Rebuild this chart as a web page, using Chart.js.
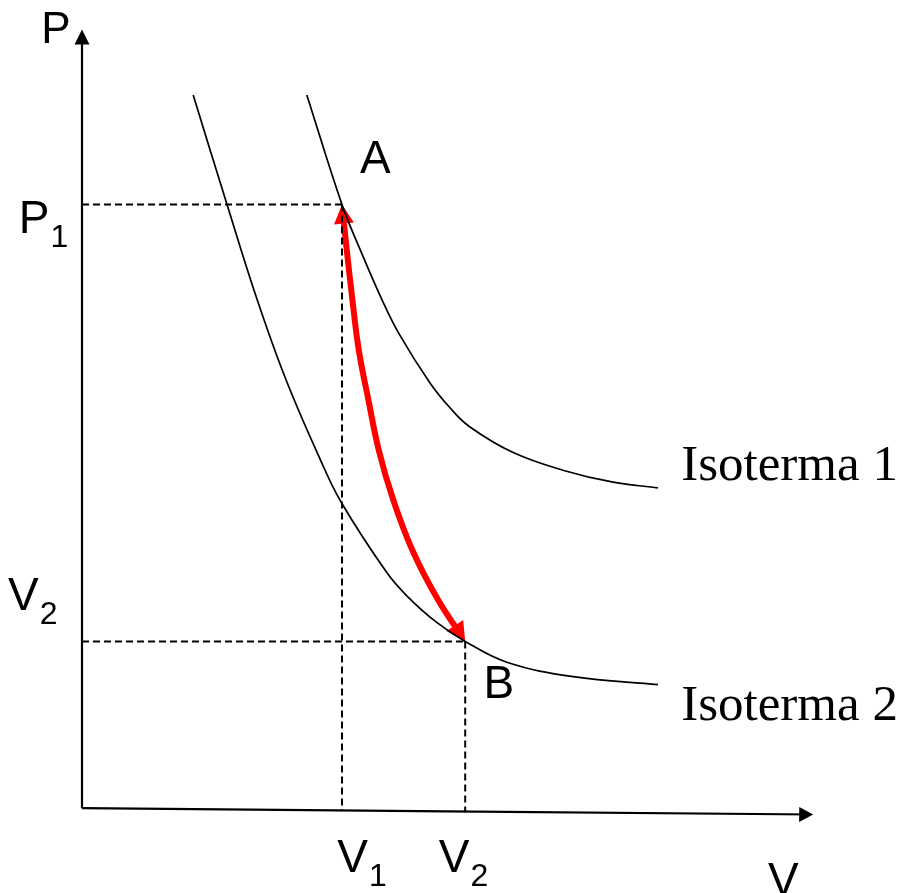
<!DOCTYPE html>
<html>
<head>
<meta charset="utf-8">
<title>Isotermas P-V</title>
<script src="https://cdn.jsdelivr.net/npm/chart.js@4.4.1/dist/chart.umd.min.js"></script>
<style>
  html, body { margin: 0; padding: 0; background: #fff; }
  canvas { display: block; }
</style>
</head>
<body>
<canvas id="pvChart" width="903" height="893"></canvas>
<script>
// Values, arbitrary units, origin at the axes corner
const iso1V = [2.81, 3.25, 3.48, 3.75, 3.96, 4.35, 4.60, 4.85, 5.39, 6.01, 6.64, 7.20];
const iso1P = [8.90, 7.53, 6.96, 6.34, 5.92, 5.30, 4.99, 4.75, 4.43, 4.21, 4.06, 3.99];

const iso2V = [1.39, 1.81, 2.19, 2.55, 2.98, 3.24, 3.81, 4.06, 4.43, 4.79, 5.31, 6.14, 7.20];
const iso2P = [8.90, 7.54, 6.34, 5.34, 4.34, 3.81, 2.93, 2.64, 2.31, 2.07, 1.81, 1.63, 1.53];

// red path A -> B
const pathV = [3.25, 3.31, 3.38, 3.46, 3.58, 3.71, 3.89, 4.13, 4.45, 4.79];
const pathP = [7.53, 6.96, 6.34, 5.71, 5.09, 4.46, 3.84, 3.21, 2.59, 2.07];

// reference levels
const V1 = 3.25, V2 = 4.79;
const P1 = 7.53, PB = 2.07;

// axes ends (the V axis is drawn slightly tilted in the original)
const axisTopP = 9.72;
const axisEndV = 9.14;
const axisVStartP = -0.015, axisVEndP = -0.094;

// text labels, anchored at left/baseline in data units
const labels = [
    { text: 'P', sub: '', v: -0.51, p: 9.55, kind: 'big' },
    { text: 'P', sub: '1', v: -0.79, p: 7.175, kind: 'sans' },
    { text: 'A', sub: '', v: 3.475, p: 7.925, kind: 'sans' },
    { text: 'B', sub: '', v: 5.02, p: 1.36, kind: 'sans' },
    { text: 'V', sub: '2', v: -0.925, p: 2.46, kind: 'sans' },
    { text: 'V', sub: '1', v: 3.19, p: -0.81, kind: 'sans' },
    { text: 'V', sub: '2', v: 4.46, p: -0.81, kind: 'sans' },
    { text: 'V', sub: '', v: 8.575, p: -1.10, kind: 'sans' },
    { text: 'Isoterma 1', sub: '', v: 7.49, p: 4.09, kind: 'serif' },
    { text: 'Isoterma 2', sub: '', v: 7.49, p: 1.09, kind: 'serif' }
];

const toPoints = (xs, ys) => xs.map((x, i) => ({ x: x, y: ys[i] }));

// Arrow heads: hide the line under the tip, then fill a triangle
function arrowTips(chart, index) {
    const ds = chart.data.datasets[index];
    const pts = chart.getDatasetMeta(index).data;
    const n = pts.length;
    return ds.arrow.ends.map(end => {
        const tip = end === 'start' ? pts[0] : pts[n - 1];
        const back = end === 'start' ? pts[1] : pts[n - 2];
        let dx = tip.x - back.x, dy = tip.y - back.y;
        const len = Math.hypot(dx, dy) || 1;
        return { x: tip.x, y: tip.y, ux: dx / len, uy: dy / len, r: ds.arrow.len * 0.6 };
    });
}

const arrowPlugin = {
    id: 'arrows',
    beforeDatasetDraw(chart, args) {
        const ds = chart.data.datasets[args.index];
        if (!ds.arrow) return;
        const ctx = chart.ctx;
        ctx.save();
        ctx.beginPath();
        ctx.rect(0, 0, chart.width, chart.height);
        arrowTips(chart, args.index).forEach(t => {
            ctx.moveTo(t.x + t.r, t.y);
            ctx.arc(t.x, t.y, t.r, 0, Math.PI * 2);
        });
        ctx.clip('evenodd');
    },
    afterDatasetDraw(chart, args) {
        const ds = chart.data.datasets[args.index];
        if (!ds.arrow) return;
        const ctx = chart.ctx;
        ctx.restore();
        ctx.save();
        ctx.fillStyle = ds.borderColor;
        arrowTips(chart, args.index).forEach(t => {
            const bx = t.x - t.ux * ds.arrow.len, by = t.y - t.uy * ds.arrow.len;
            const px = -t.uy * ds.arrow.half, py = t.ux * ds.arrow.half;
            ctx.beginPath();
            ctx.moveTo(t.x, t.y);
            ctx.lineTo(bx + px, by + py);
            ctx.lineTo(bx - px, by - py);
            ctx.closePath();
            ctx.fill();
        });
        ctx.restore();
    }
};

const labelPlugin = {
    id: 'labels',
    afterDraw(chart) {
        const ctx = chart.ctx;
        const xs = chart.scales.x, ys = chart.scales.y;
        const fonts = {
            big: '44px "Liberation Sans", Arial, sans-serif',
            sans: '46px "Liberation Sans", Arial, sans-serif',
            serif: '51px "Liberation Serif", "Times New Roman", serif'
        };
        ctx.save();
        ctx.fillStyle = '#000';
        ctx.textAlign = 'left';
        ctx.textBaseline = 'alphabetic';
        labels.forEach(l => {
            const x = xs.getPixelForValue(l.v);
            const y = ys.getPixelForValue(l.p);
            ctx.font = fonts[l.kind];
            ctx.fillText(l.text, x, y);
            if (l.sub) {
                const w = ctx.measureText(l.text).width;
                ctx.font = '32px "Liberation Sans", Arial, sans-serif';
                ctx.fillText(l.sub, x + w + 1, y + 14);
            }
        });
        ctx.restore();
    }
};

const dashed = (pts) => ({
    data: pts,
    borderColor: '#000',
    borderWidth: 2,
    borderDash: [7, 4],
    pointRadius: 0,
    showLine: true,
    fill: false
});

const curve = (pts, color, width) => ({
    data: pts,
    borderColor: color,
    borderWidth: width,
    pointRadius: 0,
    showLine: true,
    fill: false,
    tension: 0.4
});

const axisP = curve([{ x: 0, y: axisVStartP }, { x: 0, y: axisTopP }], '#000', 2.2);
axisP.arrow = { ends: ['end'], len: 15, half: 7.5 };
const axisV = curve([{ x: 0, y: axisVStartP }, { x: axisEndV, y: axisVEndP }], '#000', 2.2);
axisV.arrow = { ends: ['end'], len: 14, half: 7.5 };
const redPath = curve(toPoints(pathV, pathP), '#ff0000', 6);
redPath.arrow = { ends: ['start', 'end'], len: 19, half: 10 };

new Chart(document.getElementById('pvChart'), {
    type: 'scatter',
    data: {
        datasets: [
            axisP,
            axisV,
            dashed([{ x: 0, y: P1 }, { x: V1, y: P1 }]),
            dashed([{ x: V1, y: P1 }, { x: V1, y: -0.04 }]),
            dashed([{ x: 0, y: PB }, { x: V2, y: PB }]),
            dashed([{ x: V2, y: PB }, { x: V2, y: -0.065 }]),
            curve(toPoints(iso1V, iso1P), '#000', 1.7),
            curve(toPoints(iso2V, iso2P), '#000', 1.7),
            redPath
        ]
    },
    options: {
        responsive: false,
        animation: false,
        layout: { padding: 0 },
        plugins: {
            legend: { display: false },
            tooltip: { enabled: false }
        },
        scales: {
            x: { type: 'linear', min: -1.025, max: 10.2625, display: false },
            y: { type: 'linear', min: -1.075, max: 10.0875, display: false }
        },
        elements: { line: { borderCapStyle: 'butt' } }
    },
    plugins: [arrowPlugin, labelPlugin]
});
</script>
</body>
</html>
